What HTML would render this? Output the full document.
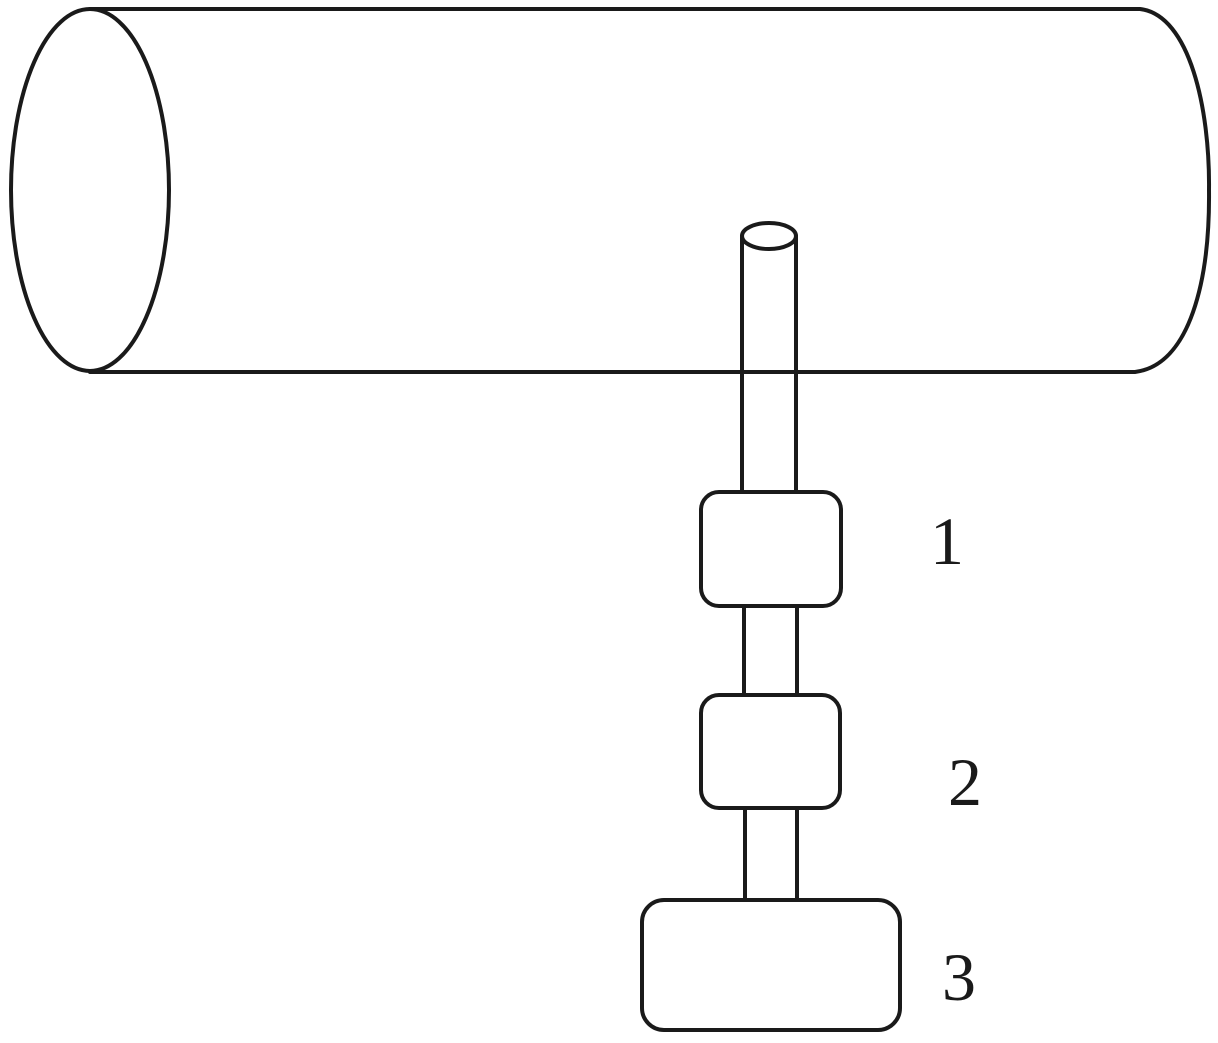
<!DOCTYPE html>
<html><head><style>html,body{margin:0;padding:0;background:#fff}svg{display:block}</style></head>
<body>
<svg width="1218" height="1043" viewBox="0 0 1218 1043" xmlns="http://www.w3.org/2000/svg">
<g fill="none" stroke="#1a1a1a" stroke-width="4" stroke-linecap="round">
<ellipse cx="90" cy="190" rx="79" ry="181" fill="#fff"/>
<path d="M90,9 L1140,9 C1190,15 1210,110 1209,190 C1210,280 1190,365 1135,372 L90,372"/>
<line x1="742" y1="236" x2="742" y2="492"/>
<line x1="796" y1="236" x2="796" y2="492"/>
<ellipse cx="769" cy="236" rx="27" ry="13" fill="#fff"/>
<rect x="701" y="492" width="140" height="114" rx="18" fill="#fff"/>
<line x1="744" y1="606" x2="744" y2="695"/>
<line x1="797" y1="606" x2="797" y2="695"/>
<rect x="701" y="695" width="139" height="113" rx="18" fill="#fff"/>
<line x1="745" y1="808" x2="745" y2="900"/>
<line x1="797" y1="808" x2="797" y2="900"/>
<rect x="642" y="900" width="258" height="130" rx="22" fill="#fff"/>
</g>
<g font-family="Liberation Serif, serif" font-size="68" fill="#1a1a1a">
<text x="930" y="564">1</text>
<text x="948" y="805">2</text>
<text x="942" y="1000">3</text>
</g>
</svg>
</body></html>
